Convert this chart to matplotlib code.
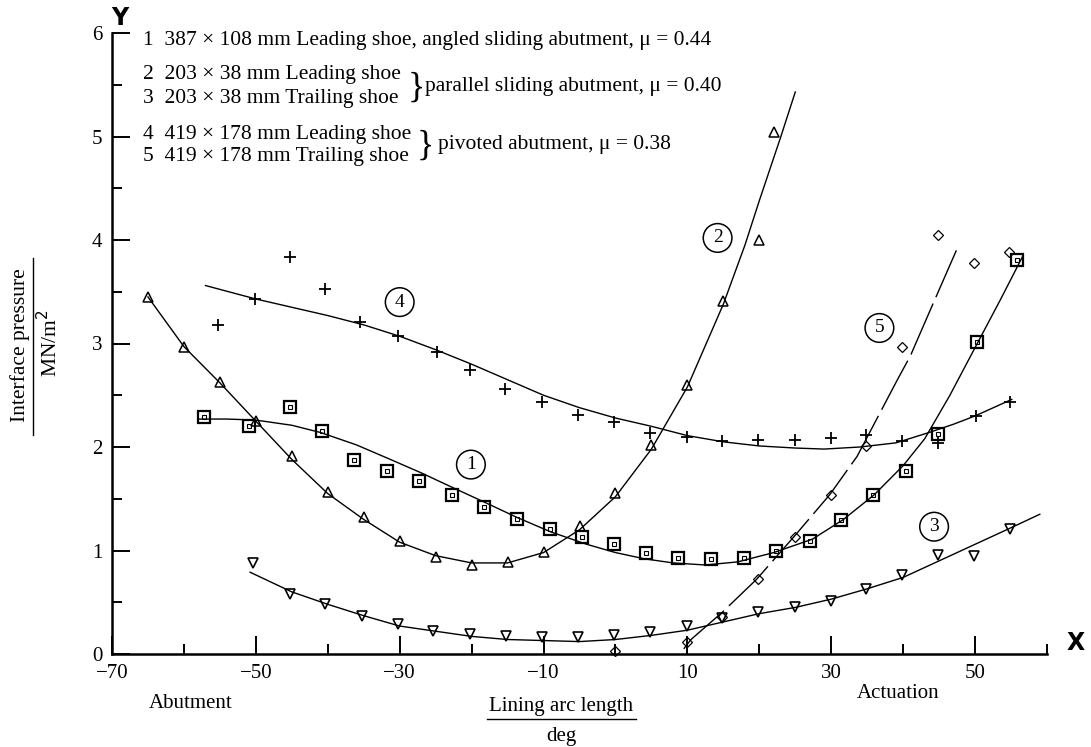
import matplotlib
matplotlib.use("Agg")
import matplotlib.pyplot as plt
from matplotlib.lines import Line2D

plt.rcParams['font.family'] = ['Liberation Serif', 'DejaVu Serif']

## measured points (deg, MN/m2)
# 1 : 387 x 108 leading shoe, squares
c1_x = [-57.2, -51, -45.2, -40.8, -36.3, -31.8, -27.3, -22.7, -18.3, -13.7, -9.1, -4.6, -0.2,
        4.3, 8.7, 13.3, 17.9, 22.3, 27, 31.4, 35.8, 40.4, 44.9, 50.3, 55.8]
c1_y = [2.29, 2.2, 2.39, 2.15, 1.87, 1.77, 1.67, 1.54, 1.42, 1.30, 1.21, 1.13, 1.06,
        0.98, 0.93, 0.92, 0.93, 1.00, 1.09, 1.29, 1.54, 1.77, 2.13, 3.01, 3.81]
# 2 : 203 x 38 leading shoe, triangles
c2_x = [-65, -60, -55, -50, -45, -40, -35, -30, -25, -20, -15, -10, -5, 0, 5, 10, 15, 20, 22]
c2_y = [3.45, 2.97, 2.63, 2.25, 1.91, 1.57, 1.32, 1.09, 0.94, 0.86, 0.89, 0.99, 1.24, 1.56,
        2.02, 2.6, 3.41, 4.0, 5.04]
# 3 : 203 x 38 trailing shoe, inverted triangles
c3_x = [-50.4, -45.2, -40.4, -35.2, -30.2, -25.3, -20.2, -15.2, -10.2, -5.2, -0.2, 4.8, 9.9,
        14.8, 19.8, 24.9, 29.9, 34.8, 39.8, 44.9, 49.9, 54.8]
c3_y = [0.88, 0.58, 0.48, 0.37, 0.29, 0.22, 0.19, 0.17, 0.16, 0.16, 0.18, 0.21, 0.27,
        0.35, 0.41, 0.45, 0.51, 0.63, 0.76, 0.96, 0.95, 1.21]
# 4 : 419 x 178 leading shoe, crosses
c4_x = [-55.3, -50.1, -45.2, -40.4, -35.5, -30.2, -24.8, -20.2, -15.3, -10.2, -5.2, -0.2, 4.8,
        9.9, 14.8, 19.8, 24.9, 29.9, 34.8, 39.8, 44.9, 50.1, 54.8]
c4_y = [3.18, 3.43, 3.84, 3.53, 3.21, 3.07, 2.92, 2.74, 2.56, 2.43, 2.31, 2.24, 2.14,
        2.10, 2.06, 2.07, 2.07, 2.09, 2.12, 2.06, 2.04, 2.30, 2.43]
# 5 : 419 x 178 trailing shoe, diamonds
c5_x = [0, 10, 14.8, 19.8, 24.9, 29.9, 34.8, 39.8, 44.9, 49.8, 54.7]
c5_y = [0.03, 0.12, 0.36, 0.72, 1.13, 1.54, 2.01, 2.97, 4.05, 3.78, 3.88]

## drawn curves
f1_x = [-57.8, -54, -50, -45, -41, -36, -31.3, -27, -23, -18, -13.7, -9, -4, 0, 4, 8, 12.5,
        17, 22, 27.4, 31.7, 36, 40, 43, 46.5, 50.3, 53.5, 56.6]
f1_y = [2.27, 2.27, 2.26, 2.21, 2.14, 2.02, 1.88, 1.75, 1.62, 1.46, 1.32, 1.18, 1.06, 0.98,
        0.92, 0.88, 0.86, 0.89, 0.98, 1.11, 1.30, 1.54, 1.82, 2.08, 2.5, 3.0, 3.42, 3.84]
f2_x = [-65, -60, -55, -50, -45, -40, -35, -30, -25, -20, -15, -10, -5, 0, 5, 10, 15, 18, 20,
        23, 25]
f2_y = [3.45, 2.97, 2.62, 2.25, 1.88, 1.55, 1.3, 1.08, 0.95, 0.88, 0.88, 0.98, 1.2, 1.52,
        1.98, 2.58, 3.38, 3.95, 4.38, 5.0, 5.43]
f3_x = [-50.8, -45, -40, -35, -30, -25, -20, -15, -10, -5, 0, 5, 10, 15, 20, 25, 30, 35, 40,
        45, 50, 55, 59]
f3_y = [0.79, 0.6, 0.48, 0.37, 0.27, 0.22, 0.17, 0.14, 0.13, 0.12, 0.14, 0.18, 0.23, 0.31,
        0.39, 0.45, 0.53, 0.63, 0.74, 0.9, 1.06, 1.22, 1.35]
f4_x = [-57, -50, -45, -40, -35, -30, -25, -20, -15, -10, -5, 0, 5, 10, 15, 20, 25, 29, 34,
        39, 43.6, 47, 50, 55.1]
f4_y = [3.56, 3.43, 3.35, 3.27, 3.18, 3.07, 2.94, 2.8, 2.65, 2.5, 2.38, 2.28, 2.2, 2.11,
        2.05, 2.01, 1.99, 1.98, 2.0, 2.04, 2.14, 2.22, 2.3, 2.46]
f5_x = [9.5, 10.5, 14.8, 19.6, 24.9, 29.8, 33.6, 39.2, 41, 44, 47.4]
f5_y = [0.05, 0.14, 0.40, 0.72, 1.14, 1.54, 1.91, 2.65, 2.88, 3.36, 3.9]

# circled curve numbers
tag_txt = ['1', '2', '3', '4', '5']
tag_x = [-20.1, 14.2, 44.3, -30, 36.7]
tag_y = [1.83, 4.02, 1.23, 3.40, 3.15]

legend_lines = ['1  387 \u00d7 108 mm Leading shoe, angled sliding abutment, \u03bc = 0.44',
                '2  203 \u00d7 38 mm Leading shoe',
                '3  203 \u00d7 38 mm Trailing shoe',
                '4  419 \u00d7 178 mm Leading shoe',
                '5  419 \u00d7 178 mm Trailing shoe']
legend_y = [40, 75, 98, 135, 157]

W, H = 1091, 747
fig = plt.figure(figsize=(W / 100, H / 100), dpi=100)
ax = fig.add_axes([112 / W, 93 / H, (1047 - 112) / W, (654 - 33) / H])

k = dict(color='black', lw=1.0, clip_on=False)
ax.plot(f1_x, f1_y, **k)
ax.plot(f2_x, f2_y, **k)
ax.plot(f3_x, f3_y, **k)
ax.plot(f4_x, f4_y, **k)
ax.plot(f5_x, f5_y, dashes=(40, 5), **k)

m = dict(ls='none', color='black', mfc='none', clip_on=False)
ax.plot(c1_x, c1_y, marker='s', ms=8.5, mew=1.6, **m)
ax.plot(c1_x, c1_y, marker='s', ms=2.5, mew=0.8, **m)
ax.plot(c2_x, c2_y, marker='^', ms=7, mew=1.1, **m)
ax.plot(c3_x, c3_y, marker='v', ms=7, mew=1.2, **m)
ax.plot(c4_x, c4_y, marker='+', ms=9, mew=1.3, **m)
ax.plot(c5_x, c5_y, marker='D', ms=5, mew=0.9, **m)

for t, x, y in zip(tag_txt, tag_x, tag_y):
    ax.text(x, y, t, ha='center', va='center', fontsize=14, zorder=5,
            bbox=dict(boxstyle='circle,pad=0.3', fc='white', ec='black', lw=1.1))

ax.set_xlim(-70, 60)
ax.set_ylim(0, 6)
ax.set_xticks([-70, -50, -30, -10, 10, 30, 50])
ax.set_xticks([-60, -40, -20, 0, 20, 40, 60], minor=True)
ax.set_yticks([0, 1, 2, 3, 4, 5, 6])
ax.set_yticks([0.5, 1.5, 2.5, 3.5, 4.5, 5.5], minor=True)
ax.tick_params(which='major', direction='in', length=13, width=1.4, labelsize=15, pad=7)
ax.tick_params(which='minor', direction='in', length=7, width=1.4)
for s in ['top', 'right']:
    ax.spines[s].set_visible(False)
for s in ['left', 'bottom']:
    ax.spines[s].set_linewidth(1.8)

def ftext(x, y, s, **kw):
    fig.text(x / W, 1 - y / H, s, **kw)

for s, y in zip(legend_lines, legend_y):
    ftext(143, y, s, fontsize=15.5, va='center', ha='left')
ftext(408, 88, '}', fontsize=26, va='center', ha='left')
ftext(425, 87, 'parallel sliding abutment, \u03bc = 0.40', fontsize=15.5, va='center')
ftext(417, 146, '}', fontsize=26, va='center', ha='left')
ftext(438, 145, 'pivoted abutment, \u03bc = 0.38', fontsize=15.5, va='center')

# y label as a fraction
ftext(20, 345, 'Interface pressure', fontsize=15.5, rotation=90, ha='center', va='center')
fig.add_artist(Line2D([33 / W, 33 / W], [1 - 258 / H, 1 - 435 / H], color='black', lw=1.0))
ftext(50, 343, 'MN/m$^2$', fontsize=15.5, rotation=90, ha='center', va='center')

# x label as a fraction
ftext(561, 706, 'Lining arc length', fontsize=15, ha='center', va='center')
fig.add_artist(Line2D([487 / W, 636 / W], [1 - 719 / H, 1 - 719 / H], color='black', lw=1.0))
ftext(561, 736, 'deg', fontsize=15, ha='center', va='center')
ftext(191, 703, 'Abutment', fontsize=15, ha='center', va='center')
ftext(898, 693, 'Actuation', fontsize=15, ha='center', va='center')

ftext(120, 18, 'Y', fontsize=17, fontweight='bold', family='DejaVu Sans', ha='center', va='center')
ftext(1076, 643, 'X', fontsize=17, fontweight='bold', family='DejaVu Sans', ha='center', va='center')

fig.savefig('out.png', dpi=100)
